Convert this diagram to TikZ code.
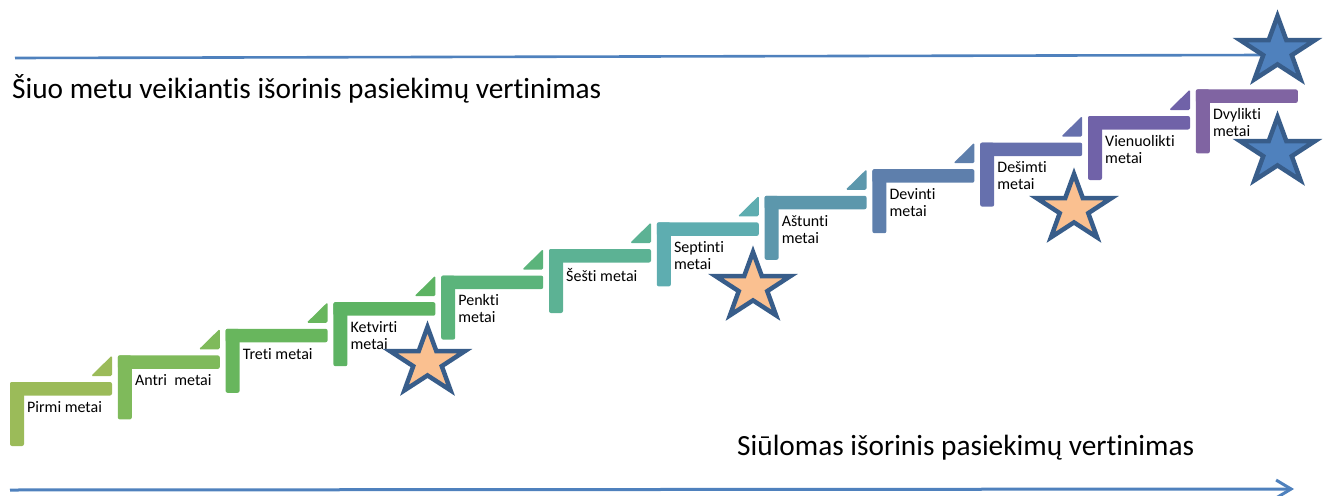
\documentclass[tikz,border=0pt]{standalone}
\usepackage{fontspec}
\setmainfont{Carlito}[Ligatures=NoCommon]
\usetikzlibrary{arrows.meta}

\definecolor{stepA}{HTML}{9BBB59}
\definecolor{stepB}{HTML}{7FBA5B}
\definecolor{stepC}{HTML}{68B65D}
\definecolor{stepD}{HTML}{5DB363}
\definecolor{stepE}{HTML}{5BB47B}
\definecolor{stepF}{HTML}{5CB294}
\definecolor{stepG}{HTML}{5EADB0}
\definecolor{stepH}{HTML}{5C97AC}
\definecolor{stepI}{HTML}{5E7FAC}
\definecolor{stepJ}{HTML}{6670AD}
\definecolor{stepK}{HTML}{7062A8}
\definecolor{stepL}{HTML}{8064A2}
\definecolor{lineblue}{HTML}{4F81BD}
\definecolor{stardark}{HTML}{385D8A}
\definecolor{starorange}{HTML}{FAC090}

\tikzset{
  stepbar/.style={rounded corners=2pt},
  stepnote/.style={anchor=north west, inner sep=0pt, align=left,
    font=\fontsize{16}{17}\selectfont},
  headline/.style={anchor=base west, inner sep=0pt,
    font=\fontsize{29.3}{34}\selectfont},
  orangestar/.style={draw=stardark, fill=starorange, line width=4.5pt},
  bluestar/.style={draw=stardark, fill=lineblue, line width=4.5pt},
}

% five point star at (x,y)
\newcommand{\yearstar}[3]{%
  \begin{scope}[shift={(#1,#2)}, xscale=1.12]
    \draw[#3] (-90:35) \foreach \k in {1,...,9}{
      -- ({-90+36*\k}:{ifthenelse(mod(\k,2)==1,13.4,35)}) } -- cycle;
  \end{scope}}

\begin{document}
\begin{tikzpicture}[x=1pt, y=-1pt]
  \useasboundingbox (0,0) rectangle (1324,495);

  % the steps
  \foreach \i/\col/\lbl in {0/stepA/Pirmi metai, 1/stepB/Antri\ \ metai,
      2/stepC/Treti metai, 3/stepD/{Ketvirti\\metai}, 4/stepE/{Penkti\\metai},
      5/stepF/Šešti metai, 6/stepG/{Septinti\\metai}, 7/stepH/{Aštunti\\metai},
      8/stepI/{Devinti\\metai}, 9/stepJ/{Dešimti\\metai},
      10/stepK/{Vienuolikti\\metai}, 11/stepL/{Dvylikti\\metai}}{
    \pgfmathsetmacro\sx{10+107.8*\i}
    \pgfmathsetmacro\sy{382-26.6*\i}
    \fill[\col, stepbar] (\sx,\sy) rectangle ++(102,13.5);
    \fill[\col, stepbar] (\sx,\sy) rectangle ++(14,64);
    \ifnum\i<11
      \fill[\col, rounded corners=1.5pt] (\sx+102,\sy-6) -- (\sx+81,\sy-6)
        -- (\sx+102,\sy-26.6) -- cycle;
    \fi
    \node[stepnote] (year\i) at (\sx+17,\sy+19) {\lbl};
  }

  % arrows
  \coordinate (nowstart) at (15,58);
  \coordinate (nowend) at (1265,55);
  \draw[lineblue, line width=2.6pt] (nowstart) -- (nowend);
  \coordinate (newstart) at (10,490);
  \coordinate (newend) at (1294,489);
  \draw[lineblue, line width=3pt, -{Straight Barb[length=15pt,width=18pt]}]
    (newstart) -- (newend);

  \node[headline] (nowtitle) at (12,98)
    {Šiuo metu veikiantis išorinis pasiekimų vertinimas};
  \node[headline] (newtitle) at (737,455)
    {Siūlomas išorinis pasiekimų vertinimas};

  % stars
  \yearstar{427.5}{362}{orangestar}
  \yearstar{753}{287}{orangestar}
  \yearstar{1074}{209}{orangestar}
  \yearstar{1277.5}{51}{bluestar}
  \yearstar{1277.5}{152}{bluestar}
\end{tikzpicture}
\end{document}
